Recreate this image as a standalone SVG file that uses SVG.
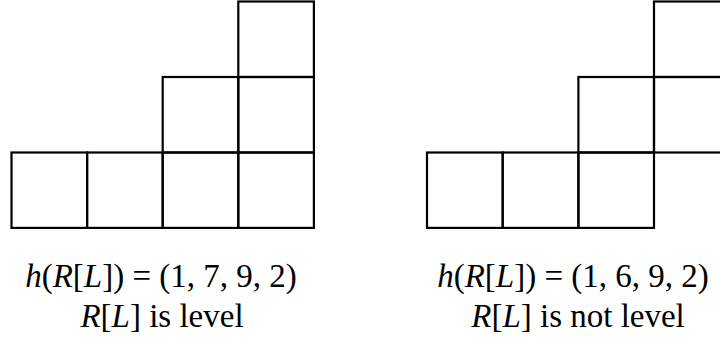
<svg xmlns="http://www.w3.org/2000/svg" width="720" height="343" viewBox="0 0 720 343">
<style>
.c{fill:none;stroke:#000;stroke-width:2.2}
.t{font-family:"Liberation Serif","DejaVu Serif",serif;font-size:33px;fill:#000;text-anchor:middle}
.i{font-style:italic}
</style>
<rect width="720" height="343" fill="#fff"/>
<g id="left-diagram">
<rect class="c" x="11.5" y="152.5" width="75.6" height="75.4"/>
<rect class="c" x="87.1" y="152.5" width="75.6" height="75.4"/>
<rect class="c" x="162.7" y="152.5" width="75.6" height="75.4"/>
<rect class="c" x="238.3" y="152.5" width="75.6" height="75.4"/>
<rect class="c" x="162.7" y="77" width="75.6" height="75.5"/>
<rect class="c" x="238.3" y="77" width="75.6" height="75.5"/>
<rect class="c" x="238.3" y="1.5" width="75.6" height="75.5"/>
</g>
<g id="right-diagram">
<rect class="c" x="427" y="152.5" width="75.7" height="75.4"/>
<rect class="c" x="502.7" y="152.5" width="75.7" height="75.4"/>
<rect class="c" x="578.4" y="152.5" width="75.6" height="75.4"/>
<rect class="c" x="578.4" y="77" width="75.6" height="75.5"/>
<rect class="c" x="654" y="77" width="75.6" height="75.5"/>
<rect class="c" x="654" y="1.5" width="75.6" height="75.5"/>
</g>
<g id="left-label">
<text class="t" x="161" y="287"><tspan class="i">h</tspan>(<tspan class="i">R</tspan>[<tspan class="i">L</tspan>]) = (1, 7, 9, 2)</text>
<text class="t" x="162" y="327"><tspan class="i">R</tspan>[<tspan class="i">L</tspan>] is level</text>
</g>
<g id="right-label">
<text class="t" x="573" y="287"><tspan class="i">h</tspan>(<tspan class="i">R</tspan>[<tspan class="i">L</tspan>]) = (1, 6, 9, 2)</text>
<text class="t" x="578" y="327"><tspan class="i">R</tspan>[<tspan class="i">L</tspan>] is not level</text>
</g>
</svg>
